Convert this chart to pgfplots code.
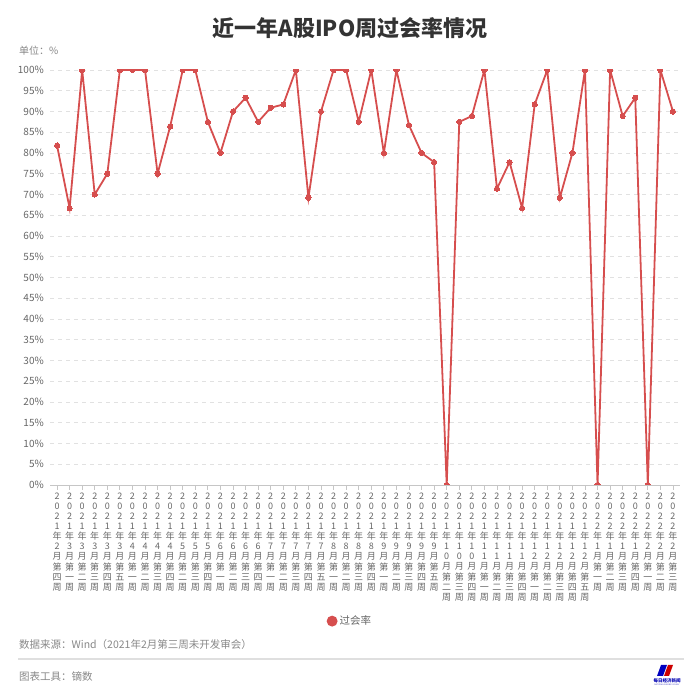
\documentclass[border=0pt]{standalone}
\usepackage{pgfplots}
\pgfplotsset{compat=1.18}
\usepackage{fontspec}
\setmainfont{Noto Sans CJK SC}
\definecolor{lred}{RGB}{214,78,78}
\definecolor{tgray}{RGB}{102,102,102}
\definecolor{sgray}{RGB}{136,136,136}
\definecolor{ggray}{RGB}{225,225,225}
\newcommand\wk[3]{{\fontsize{9}{10}\selectfont\begin{tabular}{@{}c@{}}2\\0\\2\\#1\\年\\#2\\月\\第\\#3\\周\end{tabular}}}
\begin{document}
\begin{tikzpicture}
\useasboundingbox (0,0) rectangle (700pt,700pt);
\begin{axis}[
  at={(50pt,215pt)}, anchor=south west,
  scale only axis, width=630pt, height=415pt,
  xmin=-0.56, xmax=49.56, ymin=0, ymax=100,
  separate axis lines,
  axis x line*=bottom, axis y line*=left,
  y axis line style={draw=none},
  x axis line style={draw=gray!45, line width=0.8pt},
  ytick={0,5,...,100},
  ytick style={draw=none},
  xtick={0,...,49},
  xtick align=outside,
  major tick length=5pt,
  xtick style={draw=gray!45, line width=0.8pt},
  ymajorgrids,
  grid style={ggray, line width=0.8pt, dash pattern=on 4pt off 4pt},
  /pgf/number format/assume math mode=true,
  yticklabel={\pgfmathprintnumber{\tick}\%},
  yticklabel style={font=\fontsize{10}{12}\selectfont, text=tgray, anchor=east, inner sep=0pt, xshift=-6pt},
  xticklabel style={text=tgray, anchor=north, inner sep=0pt, yshift=-2pt},
  clip marker paths=true,
  xticklabels={\wk{1}{2}{四},\wk{1}{3}{一},\wk{1}{3}{二},\wk{1}{3}{三},\wk{1}{3}{四},\wk{1}{3}{五},\wk{1}{4}{一},\wk{1}{4}{二},\wk{1}{4}{三},\wk{1}{4}{四},\wk{1}{5}{二},\wk{1}{5}{三},\wk{1}{5}{四},\wk{1}{6}{一},\wk{1}{6}{二},\wk{1}{6}{三},\wk{1}{6}{四},\wk{1}{7}{一},\wk{1}{7}{二},\wk{1}{7}{三},\wk{1}{7}{四},\wk{1}{7}{五},\wk{1}{8}{一},\wk{1}{8}{二},\wk{1}{8}{三},\wk{1}{8}{四},\wk{1}{9}{一},\wk{1}{9}{二},\wk{1}{9}{三},\wk{1}{9}{四},\wk{1}{9}{五},\wk{1}{1\\0}{二},\wk{1}{1\\0}{三},\wk{1}{1\\0}{四},\wk{1}{1\\1}{一},\wk{1}{1\\1}{二},\wk{1}{1\\1}{三},\wk{1}{1\\1}{四},\wk{1}{1\\2}{一},\wk{1}{1\\2}{二},\wk{1}{1\\2}{三},\wk{1}{1\\2}{四},\wk{1}{1\\2}{五},\wk{2}{1}{一},\wk{2}{1}{二},\wk{2}{1}{三},\wk{2}{1}{四},\wk{2}{2}{一},\wk{2}{2}{二},\wk{2}{2}{三}},
  legend style={at={(0.476,-0.328)}, anchor=center, draw=none, fill=none, font=\fontsize{10.5}{12}\selectfont, text=tgray},
  legend image code/.code={\fill[lred] (0.3em,0) circle (4.5pt);},
]
\addplot[color=lred, line width=1.8pt, mark=*, mark size=2.6pt, mark options={fill=lred, draw=lred, line width=0pt}] coordinates {
(0,81.8)(1,66.7)(2,100)(3,70)(4,75)(5,100)(6,100)(7,100)(8,75)(9,86.4)
(10,100)(11,100)(12,87.5)(13,80)(14,90)(15,93.3)(16,87.5)(17,90.9)(18,91.7)(19,100)
(20,69.2)(21,90)(22,100)(23,100)(24,87.5)(25,100)(26,80)(27,100)(28,86.7)(29,80)
(30,77.8)(31,0)(32,87.5)(33,88.9)(34,100)(35,71.4)(36,77.8)(37,66.7)(38,91.7)(39,100)
(40,69.2)(41,80)(42,100)(43,0)(44,100)(45,88.9)(46,93.3)(47,0)(48,100)(49,90)
};
\addlegendentry{过会率}
\end{axis}
\node[font=\fontsize{22}{26}\selectfont\bfseries, text=black!80] at (350pt,672pt) {近一年A股IPO周过会率情况};
\node[font=\fontsize{10}{12}\selectfont, text=sgray, anchor=west, inner sep=0pt] at (19pt,649pt) {单位：\%};
\node[font=\fontsize{10.5}{12}\selectfont, text=sgray, anchor=west, inner sep=0pt] at (19pt,55pt) {数据来源：Wind（2021年2月第三周未开发审会）};
\draw[gray!25, line width=1.2pt] (18pt,41pt) -- (684pt,41pt);
\node[font=\fontsize{10.5}{12}\selectfont, text=sgray, anchor=west, inner sep=0pt] at (19pt,24pt) {图表工具：镝数};
\fill[blue!75!black] (657pt,24pt) -- (663pt,24pt) -- (667pt,35pt) -- (661pt,35pt) -- cycle;
\fill[red!80!black] (664pt,24pt) -- (669pt,24pt) -- (673pt,35pt) -- (668pt,35pt) -- cycle;
\node[font=\fontsize{4.5}{5}\selectfont\bfseries, text=blue!70!black, inner sep=0pt] at (667pt,19pt) {每日经济新闻};
\node[font=\fontsize{2}{2}\selectfont, text=blue!50!gray, inner sep=0pt] at (667pt,15pt) {NATIONAL BUSINESS DAILY};
\end{tikzpicture}
\end{document}
